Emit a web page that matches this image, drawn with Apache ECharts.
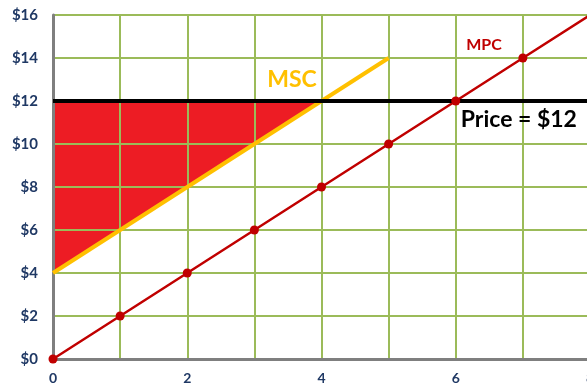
<!DOCTYPE html>
<html>
<head>
<meta charset="utf-8">
<script src="https://cdn.jsdelivr.net/npm/echarts@6/dist/echarts.min.js"></script>
<style>
  html, body { margin: 0; padding: 0; background: #fff; }
  #chart { width: 587px; height: 385px; }
</style>
</head>
<body>
<div id="chart"></div>
<script>
// Quantity / cost values
const quantity = [0, 1, 2, 3, 4, 5, 6, 7, 8];
const mpc = [0, 2, 4, 6, 8, 10, 12, 14, 16];          // marginal private cost
const mscQuantity = [0, 5];
const msc = [4, 14];                                   // marginal social cost
const price = 12;
const priceRange = [0, 8];
// Shaded region bounded by MSC, the price line and the price axis
const shadeQuantity = [0, 0, 4];
const shadeCost = [4, 12, 12];

const navy = '#1F3864';
const font = 'Lato, "Open Sans", sans-serif';

const chart = echarts.init(document.getElementById('chart'), null, { renderer: 'canvas' });

const mpcData = quantity.map((q, i) => {
  const item = { value: [q, mpc[i]] };
  if (i === quantity.length - 1) item.symbol = 'none';
  return item;
});

// Transparent anchor carrying a text label at a data coordinate
function textMark(coord, text, style) {
  return {
    symbol: 'circle',
    symbolSize: 2,
    itemStyle: { color: 'rgba(0,0,0,0)' },
    silent: true,
    data: [{
      coord: coord,
      label: Object.assign({ show: true, position: 'inside', formatter: text, fontFamily: font, fontWeight: 'bold' }, style)
    }]
  };
}

chart.setOption({
  animation: false,
  grid: { left: 53, right: -3, top: 15, bottom: 26, containLabel: false, outerBoundsMode: 'none' },
  xAxis: {
    type: 'value', min: 0, max: 8, interval: 1,
    axisLine: { show: true, onZero: false, lineStyle: { color: '#7F7F7F', width: 3 } },
    axisTick: { show: false },
    splitLine: { show: true, lineStyle: { color: '#9BBB59', width: 2 } },
    axisLabel: {
      margin: 12, color: navy, fontWeight: 'bold', fontSize: 14, fontFamily: font,
      formatter: v => (v % 2 === 0 ? String(v) : '')
    }
  },
  yAxis: {
    type: 'value', min: 0, max: 16, interval: 2,
    axisLine: { show: true, onZero: false, lineStyle: { color: '#7F7F7F', width: 3 } },
    axisTick: { show: false },
    splitLine: { show: true, lineStyle: { color: '#9BBB59', width: 2 } },
    axisLabel: {
      margin: 15, color: navy, fontWeight: 'bold', fontSize: 15, fontFamily: font,
      formatter: v => '$' + v
    }
  },
  series: [
    {
      type: 'custom',
      z: -1,
      silent: true,
      data: shadeQuantity.map((q, i) => [q, shadeCost[i]]),
      renderItem: function (params, api) {
        if (params.dataIndex !== 0) return null;
        const pts = shadeQuantity.map((q, i) => api.coord([q, shadeCost[i]]));
        return { type: 'polygon', shape: { points: pts }, style: { fill: '#ED1C24' } };
      }
    },
    {
      name: 'MPC',
      type: 'line',
      data: mpcData,
      symbol: 'circle',
      symbolSize: 9,
      lineStyle: { color: '#C00000', width: 2.5 },
      itemStyle: { color: '#C00000' },
      markPoint: textMark([6.42, 14.6], 'MPC', { color: '#C00000', fontSize: 16 })
    },
    {
      name: 'MSC',
      type: 'line',
      data: mscQuantity.map((q, i) => [q, msc[i]]),
      symbol: 'none',
      lineStyle: { color: '#FFC000', width: 4 },
      markPoint: textMark([3.56, 13.0], 'MSC', { color: '#FFC000', fontSize: 23 })
    },
    {
      name: 'Price',
      type: 'line',
      data: priceRange.map(q => [q, price]),
      symbol: 'none',
      lineStyle: { color: '#000000', width: 4 },
      markPoint: textMark([6.06, 11.15], 'Price = $' + price, { color: '#000000', fontSize: 23, position: 'right', distance: 0 })
    }
  ]
});
</script>
</body>
</html>
